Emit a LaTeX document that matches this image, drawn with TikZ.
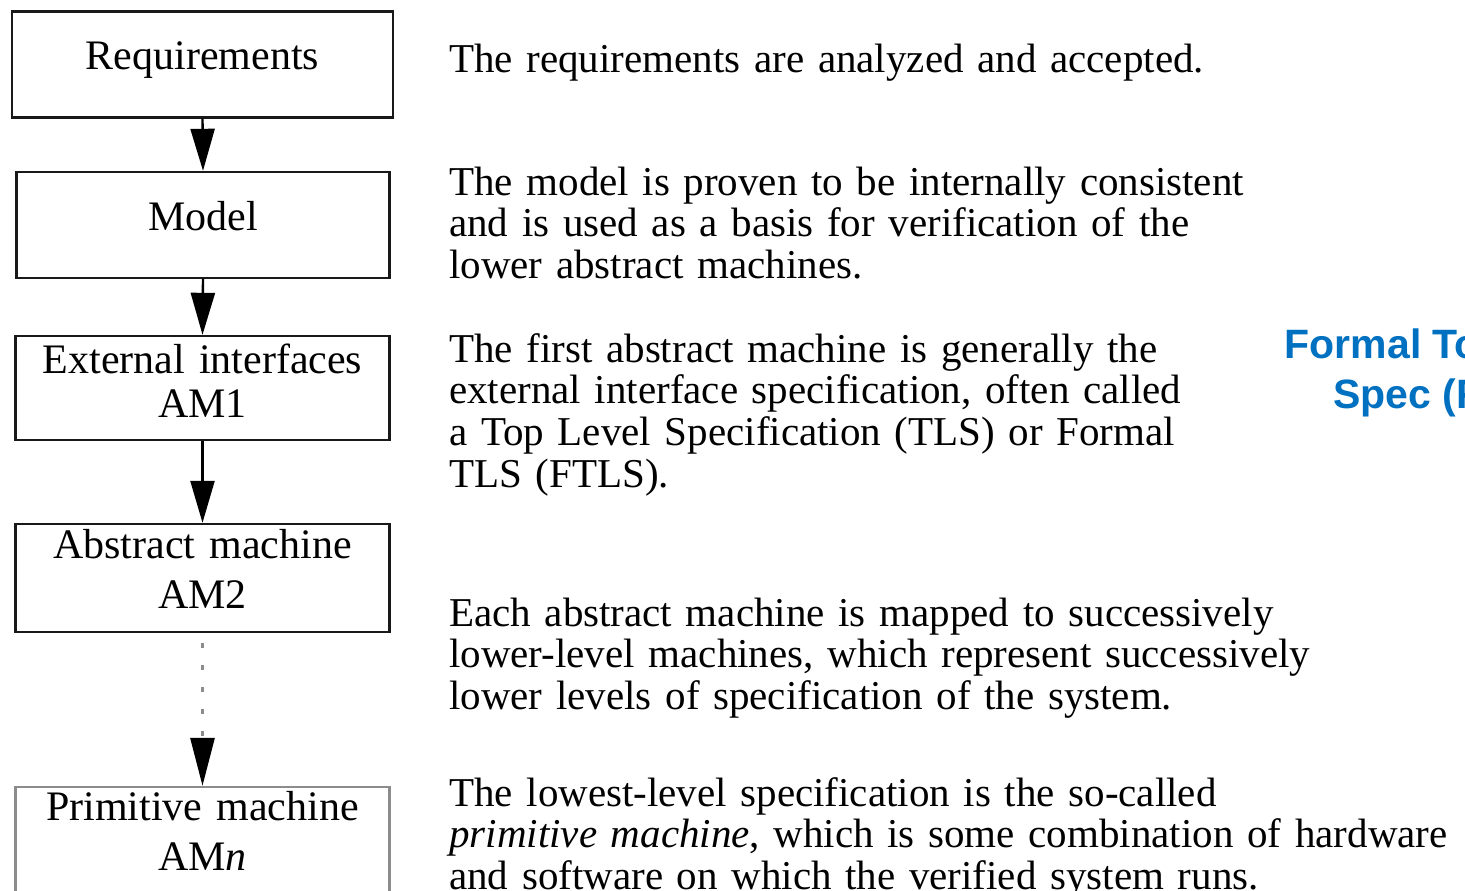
\documentclass[tikz,border=0pt]{standalone}
\usepackage{fontspec}
\setmainfont{Liberation Serif}
\newfontfamily\blueff{Liberation Sans}
\usetikzlibrary{arrows.meta,calc}
\definecolor{ftlsblue}{RGB}{0,112,192}
\begin{document}
\begin{tikzpicture}[x=1pt,y=-1pt,
  boxnode/.style={draw=black!90, line width=2.4pt, minimum width=376pt, minimum height=106pt, inner sep=0pt},
  boxtext/.style={anchor=base, inner sep=0pt, text width=376pt, align=center, font=\fontsize{42}{47}\selectfont},
  desc/.style={anchor=base west, inner sep=0pt, text width=1100pt, align=left, font=\fontsize{41}{41.8}\selectfont},
  flow/.style={line width=2.4pt, -{Triangle[width=24pt,length=42pt]}},
  dotflow/.style={line width=3pt, black!45, dash pattern=on 5pt off 17pt, -{Triangle[width=24pt,length=48pt,color=black]}},
  bluetext/.style={anchor=base, inner sep=0pt, align=center, text=ftlsblue, font=\blueff\bfseries\fontsize{41}{50}\selectfont}
]
\useasboundingbox (0,0) rectangle (1465,891);
\clip (0,0) rectangle (1465,891);
\fill[white] (0,0) rectangle (1465,891);

% boxes
\node[boxnode, minimum width=381pt, minimum height=106pt] (req) at (202.5,64.5) {};
\node[boxnode, minimum width=373pt, minimum height=106pt] (model) at (203,225) {};
\node[boxnode, minimum width=374pt, minimum height=104pt] (am1) at (202.5,388) {};
\node[boxnode, minimum width=374pt, minimum height=108pt] (am2) at (202.5,578) {};
\node[boxnode, minimum width=374pt, minimum height=108pt, draw=black!45] (amn) at (202.5,841) {};

% box texts
\node[boxtext] (reqT) at (202.5,70) {Requirements};
\node[boxtext] (modelT) at (203,230) {Model};
\node[boxtext, font=\fontsize{42}{44}\selectfont] (am1T) at (202.5,373) {External interfaces\\AM1};
\node[boxtext, font=\fontsize{42}{50}\selectfont] (am2T) at (202.5,558) {Abstract machine\\AM2};
\node[boxtext, font=\fontsize{42}{50}\selectfont] (amnT) at (202.5,820) {Primitive machine\\AM\textit{n}};

% connectors
\draw[flow] (req.south) -- (model.north);
\draw[flow] (model.south) -- (am1.north);
\draw[flow] (am1.south) -- (am2.north);
\draw[dotflow] ([yshift=-10pt]am2.south) -- (amn.north);

% descriptions
\node[desc] (d0) at (449,73) {The requirements are analyzed and accepted.};
\node[desc] (d1) at (449,195) {The model is proven to be internally consistent\\and is used as a basis for verification of the\\lower abstract machines.};
\node[desc] (d2) at (449,362) {The first abstract machine is generally the\\external interface specification, often called\\a Top Level Specification (TLS) or Formal\\TLS (FTLS).};
\node[desc] (d3) at (449,626) {Each abstract machine is mapped to successively\\lower-level machines, which represent successively\\lower levels of specification of the system.};
\node[desc] (d4) at (449,806) {The lowest-level specification is the so-called\\\textit{primitive machine}, which is some combination of hardware\\and software on which the verified system runs.};

% blue label (cut off by the right edge, as in the reference)
\node[bluetext] (ftls) at (1453,408) {Formal Top Level\\Spec (FTLS)};
\end{tikzpicture}
\end{document}
